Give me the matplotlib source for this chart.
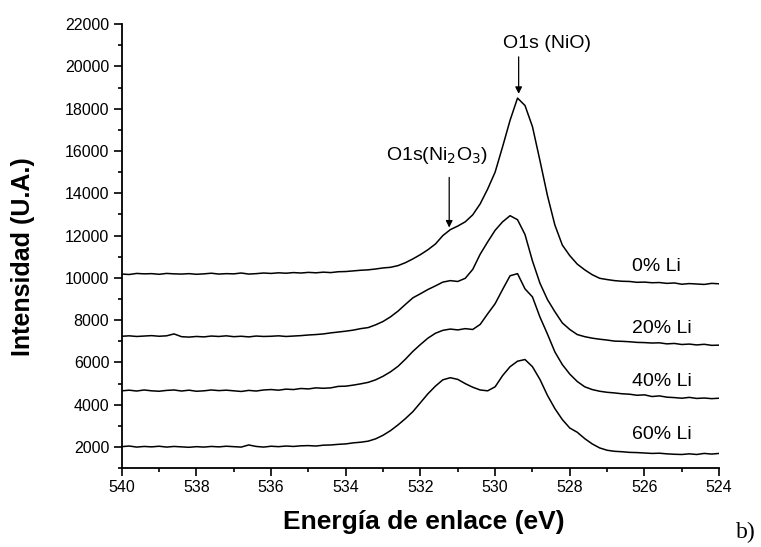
import matplotlib
matplotlib.use("Agg")
import matplotlib.pyplot as plt
import numpy as np
from matplotlib.ticker import MultipleLocator

# binding energy grid (eV), 0.2 eV steps from 540 down to 524
energia = np.round(np.arange(540.0, 523.99, -0.2), 1)

li_0 = [10180, 10160, 10210, 10190, 10200, 10170, 10210, 10190, 10180, 10200,
        10170, 10190, 10220, 10180, 10200, 10190, 10230, 10180, 10200, 10230,
        10210, 10240, 10220, 10250, 10230, 10260, 10240, 10270, 10250, 10290,
        10300, 10330, 10360, 10380, 10420, 10470, 10500, 10580, 10720, 10900,
        11100, 11330, 11600, 12000, 12280, 12450, 12650, 12980, 13500, 14200,
        15000, 16200, 17450, 18500, 18150, 17150, 15550, 13900, 12500, 11550,
        11050, 10650, 10380, 10150, 9980, 9920, 9870, 9840, 9830, 9790,
        9800, 9770, 9780, 9740, 9760, 9700, 9730, 9710, 9690, 9740, 9720]

li_20 = [7240, 7260, 7230, 7250, 7270, 7240, 7260, 7350, 7220, 7200,
         7230, 7210, 7250, 7230, 7260, 7220, 7240, 7210, 7250, 7230,
         7240, 7260, 7230, 7250, 7270, 7300, 7320, 7350, 7400, 7440,
         7480, 7530, 7600, 7650, 7780, 7940, 8160, 8430, 8750, 9060,
         9250, 9450, 9620, 9800, 9870, 9830, 9980, 10400, 11120, 11700,
         12250, 12650, 12940, 12750, 12050, 10800, 9750, 8980, 8400, 7870,
         7560, 7320, 7220, 7150, 7100, 7060, 7010, 7000, 6980, 6950,
         6940, 6920, 6930, 6880, 6900, 6850, 6870, 6830, 6860, 6810, 6820]

li_40 = [4660, 4690, 4650, 4700, 4660, 4640, 4680, 4700, 4650, 4690,
         4640, 4660, 4700, 4670, 4690, 4660, 4630, 4680, 4650, 4700,
         4720, 4690, 4740, 4720, 4770, 4750, 4800, 4780, 4800, 4870,
         4880, 4930, 4990, 5060, 5180, 5350, 5560, 5820, 6160, 6530,
         6850, 7150, 7380, 7520, 7580, 7540, 7600, 7560, 7800, 8300,
         8780, 9450, 10100, 10200, 9480, 9100, 8150, 7350, 6500, 5900,
         5450, 5100, 4850, 4720, 4640, 4590, 4560, 4520, 4500, 4450,
         4470, 4390, 4420, 4360, 4340, 4310, 4350, 4300, 4320, 4290, 4310]

li_60 = [2020, 2050, 2000, 2030, 2010, 2040, 2000, 2030, 2010, 1990,
         2020, 2000, 2030, 2010, 2040, 2020, 2000, 2100, 2030, 2000,
         2040, 2020, 2050, 2030, 2060, 2070, 2050, 2090, 2100, 2130,
         2150, 2200, 2230, 2280, 2390, 2560, 2780, 3050, 3350, 3680,
         4100, 4520, 4880, 5180, 5280, 5200, 5000, 4830, 4700, 4660,
         4850, 5380, 5800, 6060, 6140, 5800, 5200, 4450, 3820, 3300,
         2900, 2700, 2400, 2150, 1960, 1850, 1800, 1780, 1750, 1740,
         1720, 1700, 1710, 1680, 1660, 1650, 1680, 1650, 1700, 1670, 1700]

series = [li_0, li_20, li_40, li_60]
etiquetas = ["0% Li", "20% Li", "40% Li", "60% Li"]
etiqueta_y = [10560, 7620, 5100, 2590]

plt.rcParams["font.family"] = ["Liberation Sans", "DejaVu Sans"]

fig = plt.figure(figsize=(7.61, 5.47), dpi=100)
ax = fig.add_axes([0.160, 0.144, 0.785, 0.812])

for valores in series:
    ax.plot(energia, valores, color="black", linewidth=1.1)

for texto, y in zip(etiquetas, etiqueta_y):
    ax.text(526.33, y, texto, fontsize=14, ha="left", va="center")

# peak annotations
ax.text(529.79, 21100, "O1s (NiO)", fontsize=14, ha="left", va="center")
ax.annotate("", xy=(529.37, 18700), xytext=(529.37, 20450),
            arrowprops=dict(arrowstyle="-|>", color="black", lw=0.9,
                            mutation_scale=10, shrinkA=0, shrinkB=0))
ax.text(532.92, 15780, "O1s(Ni$_2$O$_3$)", fontsize=14, ha="left", va="center")
ax.annotate("", xy=(531.23, 12380), xytext=(531.23, 14750),
            arrowprops=dict(arrowstyle="-|>", color="black", lw=0.9,
                            mutation_scale=10, shrinkA=0, shrinkB=0))

ax.set_xlim(540, 524)
ax.set_ylim(1000, 22000)
ax.xaxis.set_major_locator(MultipleLocator(2))
ax.xaxis.set_minor_locator(MultipleLocator(1))
ax.yaxis.set_major_locator(MultipleLocator(2000))
ax.yaxis.set_minor_locator(MultipleLocator(1000))
ax.tick_params(which="major", length=5.5, width=1.2, labelsize=11.5)
ax.tick_params(axis="x", which="major", pad=3)
ax.tick_params(which="minor", length=3, width=1.2)

for lado in ["top", "right"]:
    ax.spines[lado].set_visible(False)
for lado in ["left", "bottom"]:
    ax.spines[lado].set_linewidth(1.3)

ax.set_xlabel("Energía de enlace (eV)", fontsize=19, fontweight="bold")
ax.set_ylabel("Intensidad (U.A.)", fontsize=18, fontweight="bold")
ax.xaxis.set_label_coords(0.505, -0.093)
ax.yaxis.set_label_coords(-0.145, 0.477)

fig.text(0.980, 0.026, "b)", fontsize=17, family="Liberation Serif", ha="center", va="center")

fig.savefig("out.png", dpi=100)
